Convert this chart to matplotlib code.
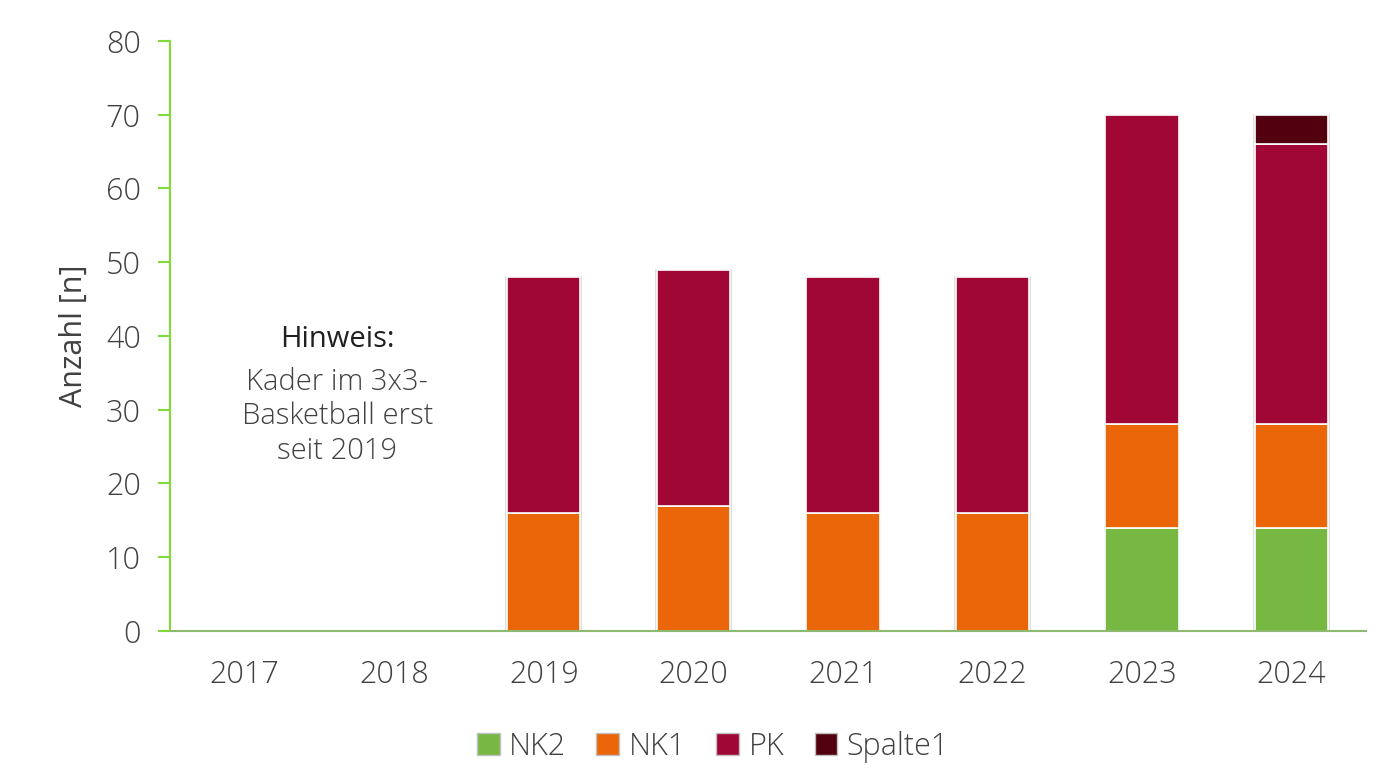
import matplotlib
matplotlib.use("Agg")
import matplotlib.pyplot as plt
import numpy as np
from matplotlib.patches import Patch

years = ["2017", "2018", "2019", "2020", "2021", "2022", "2023", "2024"]
nk2 = [0, 0, 0, 0, 0, 0, 14, 14]
nk1 = [0, 0, 16, 17, 16, 16, 14, 14]
pk = [0, 0, 32, 32, 32, 32, 42, 38]
spalte1 = [0, 0, 0, 0, 0, 0, 0, 4]
series_names = ["NK2", "NK1", "PK", "Spalte1"]
colors = ["#77B843", "#EB6608", "#A00735", "#52000F"]
yticks = [0, 10, 20, 30, 40, 50, 60, 70, 80]

plt.rcParams['font.family'] = ['Open Sans', 'DejaVu Sans']
plt.rcParams['font.weight'] = 'light'
text_color = "#404040"

fig = plt.figure(figsize=(13.76, 7.73), dpi=100)
ax = fig.add_axes([0.1235, 0.1837, 0.8695, 0.7633])

x = np.arange(len(years))
bottom = np.zeros(len(years))
for vals, c in zip([nk2, nk1, pk, spalte1], colors):
    v = np.array(vals, dtype=float)
    mask = v > 0
    ax.bar(x[mask], v[mask], width=0.5, bottom=bottom[mask], color=c,
           edgecolor="#d9d9d9", linewidth=1.2, zorder=3)
    ax.bar(x[mask], v[mask], width=0.49, bottom=bottom[mask], color=c,
           edgecolor="white", linewidth=1.2, zorder=4)
    bottom += v

ax.set_xlim(-0.5, len(years) - 0.5)
ax.set_ylim(0, 80)
ax.set_yticks(yticks)
ax.set_xticks(x)
ax.set_xticklabels(years)

for s in ["top", "right"]:
    ax.spines[s].set_visible(False)
ax.spines["left"].set_color("#7FDB3A")
ax.spines["left"].set_linewidth(1.5)
ax.spines["bottom"].set_color("#8DBA6E")
ax.spines["bottom"].set_linewidth(1.5)
ax.spines["left"].set_zorder(5)
ax.spines["bottom"].set_zorder(5)

ax.tick_params(axis="y", direction="out", length=9, width=1.5, color="#7FDB3A",
               labelsize=22, labelcolor=text_color, pad=12)
ax.tick_params(axis="x", length=0, labelsize=22, labelcolor=text_color, pad=20)

ax.set_ylabel("Anzahl [n]", fontsize=22, color=text_color, labelpad=12)

# annotation
ax.text(0.62, 39.5, "Hinweis:", ha="center", va="center", fontsize=21,
        color="#202020", fontweight="normal")
ax.text(0.62, 29.1, "Kader im 3x3-\nBasketball erst\nseit 2019", ha="center",
        va="center", fontsize=21, color=text_color, linespacing=1.22)

handles = [Patch(facecolor=c, edgecolor="#c0c0c0", linewidth=1) for c in colors]
fig.legend(handles, series_names, loc="center", bbox_to_anchor=(0.518, 0.034),
           ncol=4, frameon=False, fontsize=22, handlelength=0.75, handleheight=0.75,
           handletextpad=0.3, columnspacing=1.0, labelcolor=text_color)

fig.savefig("out.png", dpi=100)
